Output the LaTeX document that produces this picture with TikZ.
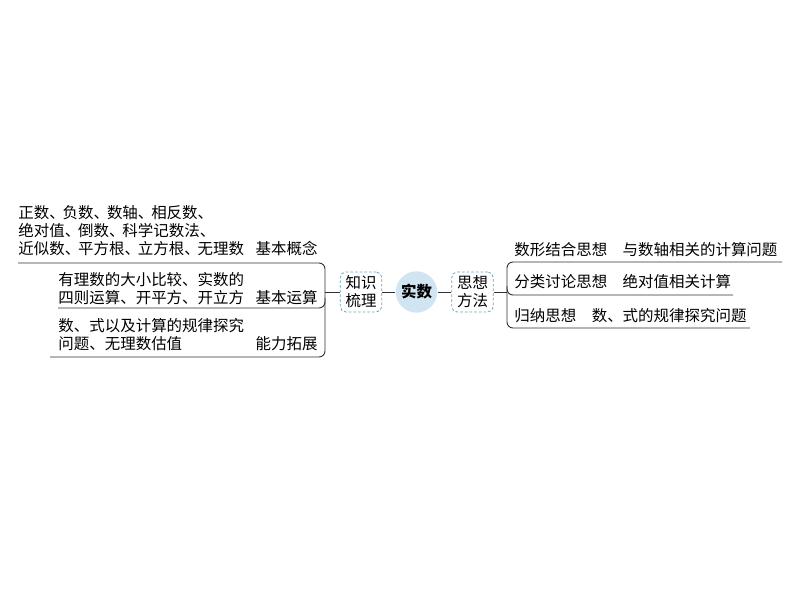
\documentclass[tikz,border=0pt]{standalone}
\usepackage{fontspec}
\setmainfont{Noto Sans CJK SC}
\usetikzlibrary{positioning}
\definecolor{LineGray}{RGB}{50,50,50}
\definecolor{BoxBlue}{RGB}{105,165,190}
\definecolor{RootBlue}{RGB}{208,228,242}
\newcommand\dunhao{、\kern-1.6pt}

\begin{document}
\begin{tikzpicture}[x=0.75pt,y=0.75pt,
       LineGray, text=black, line width=0.7pt, rounded corners=4.5pt,
       every node/.style={font=\fontsize{11.6pt}{13.5pt}\selectfont, inner sep=0pt},
       rootnode/.style={circle, fill=RootBlue, minimum size=31pt,
                        font=\fontsize{11.6pt}{13.5pt}\selectfont\bfseries},
       topicbox/.style={rectangle, draw=BoxBlue, line width=0.6pt,
                        dash pattern=on 2pt off 1.5pt, rounded corners=4pt,
                        minimum width=31pt, minimum height=30pt, align=center},
       leaftext/.style={anchor=south west, align=left},
       leaftag/.style={anchor=south east}]
	%% Frame
	\path[fill=white, sharp corners] (0,0) rectangle (794,596);
	\useasboundingbox (0,0) rectangle (794,596);

	%% Root and topics
	\node [rootnode] (root) at (416.5,304) {实数};
	\node [topicbox] (know) at (361,304) {知识\\梳理};
	\node [topicbox] (method) at (472.5,304) {思想\\方法};

	%% Bracket joints
	\coordinate (lbrace) at (325,304);
	\coordinate (rbrace) at (507,304);

	%% Knowledge branch
	\node [leaftext] (concepttxt) at (18,340) {正数\dunhao 负数\dunhao 数轴\dunhao 相反数\dunhao\\绝对值\dunhao 倒数\dunhao 科学记数法\dunhao\\近似数\dunhao 平方根\dunhao 立方根\dunhao 无理数};
	\node [leaftag] (concept) at (318,340) {基本概念};
	\node [leaftext] (operatetxt) at (58,291) {有理数的大小比较、实数的\\四则运算、开平方、开立方};
	\node [leaftag] (operate) at (318,291) {基本运算};
	\node [leaftext] (extendtxt) at (58,245) {数、式以及计算的规律探究\\问题、无理数估值};
	\node [leaftag] (extend) at (318,245) {能力拓展};

	%% Method branch
	\node [leaftext] (numshape) at (514,339) {数形结合思想　与数轴相关的计算问题};
	\node [leaftext] (classify) at (514,307) {分类讨论思想　绝对值相关计算};
	\node [leaftext] (induce) at (514,273) {归纳思想　数、式的规律探究问题};

	%% Brackets
	\draw (18,333) -| (325,239) -- (50,239);
	\draw (325,298) |- (58,288);
	\draw (782,334) -| (507,268) -- (750,268);
	\draw (507,310) |- (733,301);

	%% Paths
	\draw (lbrace) -- (know);
	\draw (know) -- (root);
	\draw (root) -- (method);
	\draw (method) -- (rbrace);
\end{tikzpicture}
\end{document}
